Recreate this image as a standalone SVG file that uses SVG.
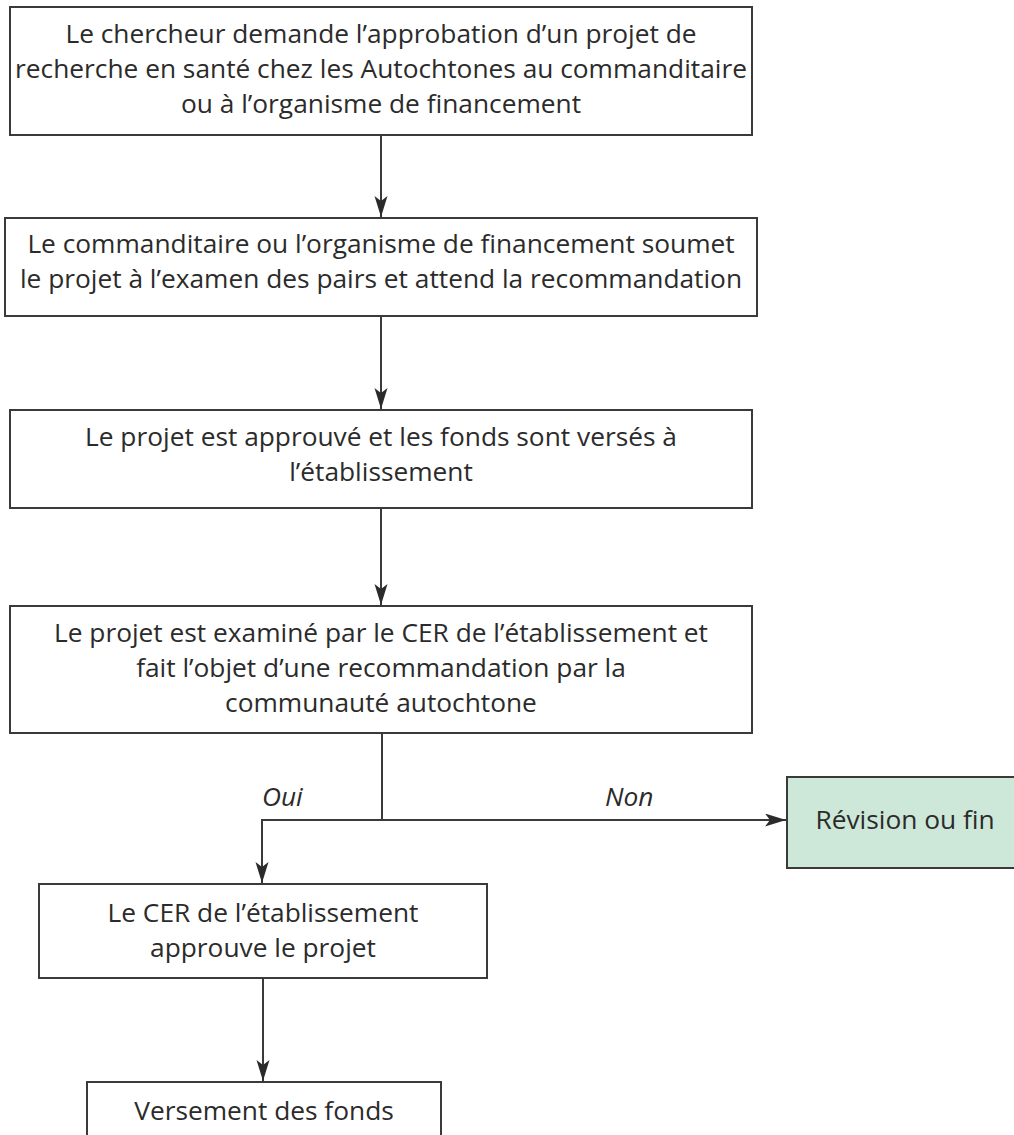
<svg xmlns="http://www.w3.org/2000/svg" width="1014" height="1135" viewBox="0 0 1014 1135">
<style>
.box{fill:#ffffff;stroke:#3a3a3a;stroke-width:2}
.green{fill:#cde8d8;stroke:#3a3a3a;stroke-width:2}
.t{font-family:"Open Sans","Noto Sans",sans-serif;font-size:26.3px;fill:#2b2b2b;text-anchor:middle}
.lbl{font-family:"Open Sans","Noto Sans",sans-serif;font-size:26.3px;fill:#2b2b2b;font-style:italic}
.c{fill:none;stroke:#3a3a3a;stroke-width:2}
</style>
<defs>
<marker id="ah" markerUnits="userSpaceOnUse" markerWidth="22" markerHeight="14" refX="21" refY="6.5" orient="auto">
<path d="M0,0 L21,6.5 L0,13 L5,6.5 z" fill="#2b2b2b"/>
</marker>
</defs>
<g id="n1">
<rect class="box" x="10" y="7" width="742" height="128"/>
<text class="t" x="381" y="43">Le chercheur demande l’approbation d’un projet de</text>
<text class="t" x="381" y="78">recherche en santé chez les Autochtones au commanditaire</text>
<text class="t" x="381" y="113">ou à l’organisme de financement</text>
</g>
<g id="n2">
<rect class="box" x="5" y="218" width="752" height="98"/>
<text class="t" x="381" y="253">Le commanditaire ou l’organisme de financement soumet</text>
<text class="t" x="381" y="288">le projet à l’examen des pairs et attend la recommandation</text>
</g>
<g id="n3">
<rect class="box" x="10" y="410" width="742" height="98"/>
<text class="t" x="381" y="446">Le projet est approuvé et les fonds sont versés à</text>
<text class="t" x="381" y="481">l’établissement</text>
</g>
<g id="n4">
<rect class="box" x="10" y="606" width="742" height="127"/>
<text class="t" x="381" y="642">Le projet est examiné par le CER de l’établissement et</text>
<text class="t" x="381" y="677">fait l’objet d’une recommandation par la</text>
<text class="t" x="381" y="712">communauté autochtone</text>
</g>
<g id="n5">
<rect class="green" x="787" y="777" width="240" height="91"/>
<text class="t" x="905" y="829">Révision ou fin</text>
</g>
<g id="n6">
<rect class="box" x="39" y="884" width="448" height="94"/>
<text class="t" x="263" y="922">Le CER de l’établissement</text>
<text class="t" x="263" y="957">approuve le projet</text>
</g>
<g id="n7">
<rect class="box" x="87" y="1082" width="354" height="70"/>
<text class="t" x="264" y="1120">Versement des fonds</text>
</g>
<g id="connectors">
<line class="c" x1="381" y1="135" x2="381" y2="217" marker-end="url(#ah)"/>
<line class="c" x1="381" y1="316" x2="381" y2="409" marker-end="url(#ah)"/>
<line class="c" x1="381" y1="508" x2="381" y2="605" marker-end="url(#ah)"/>
<line class="c" x1="382" y1="733" x2="382" y2="820"/>
<line class="c" x1="261" y1="820" x2="786" y2="820" marker-end="url(#ah)"/>
<line class="c" x1="262" y1="819" x2="262" y2="883" marker-end="url(#ah)"/>
<line class="c" x1="263" y1="978" x2="263" y2="1081" marker-end="url(#ah)"/>
<text class="lbl" x="262" y="806">Oui</text>
<text class="lbl" x="605" y="806">Non</text>
</g>
</svg>
